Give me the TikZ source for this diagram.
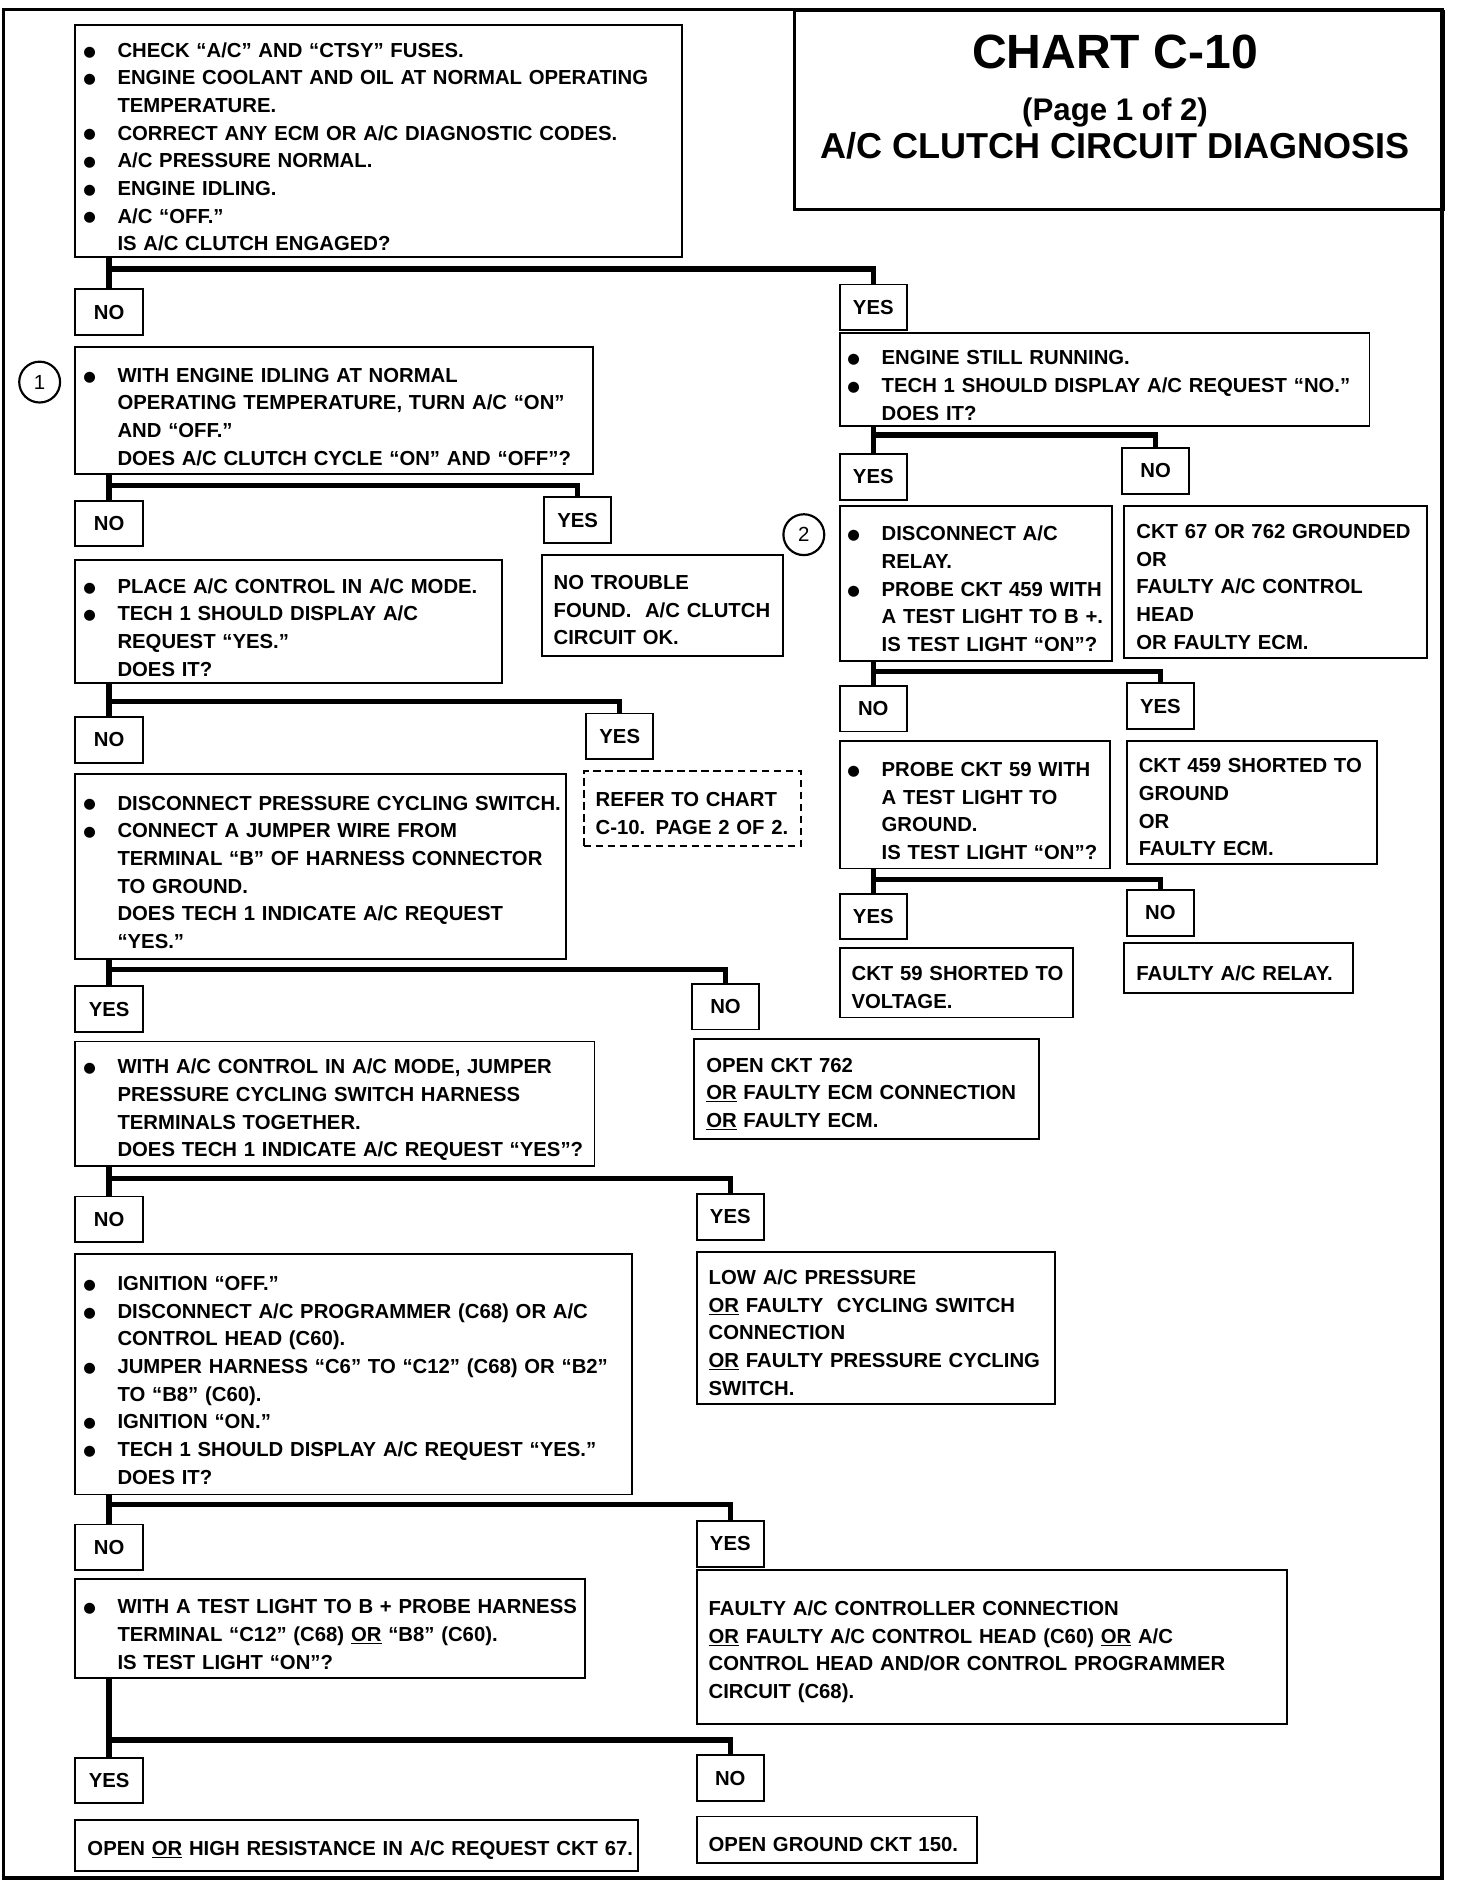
\documentclass[tikz,border=0pt]{standalone}
\usepackage{fontspec}
\setmainfont{Liberation Sans}
\newfontfamily\dejavu{DejaVu Sans}
\usetikzlibrary{positioning}
\newcommand{\bl}{\leavevmode\llap{\raisebox{1pt}{\dejavu\fontsize{12}{12}\selectfont ●}\hspace{18pt}}}
\newcommand{\ul}[1]{\underline{#1}}
\newcommand{\nobreaks}{\rightskip=0pt plus 1fil minus 150pt\hyphenpenalty=10000\relax}
\tikzset{
  txtfont/.style={font=\bfseries\fontsize{16.9}{23}\selectfont},
  bbox/.style 2 args={draw, line width=1.6pt, anchor=north west, inner xsep=0pt, inner ysep=0pt,
    text width=#1, minimum height=#2, align=left, txtfont,
    execute at begin node={\leftskip=35pt\nobreaks\leavevmode\rule{0pt}{22pt}}},
  pbox/.style 2 args={draw, line width=1.6pt, anchor=north west, inner xsep=0pt, inner ysep=0pt,
    text width=#1, minimum height=#2, align=left, txtfont,
    execute at begin node={\leftskip=10pt\nobreaks\leavevmode\rule{0pt}{20pt}}},
  lab/.style={draw, line width=1.6pt, anchor=north west, minimum width=56, minimum height=38,
    inner sep=0pt, txtfont},
  conn/.style={line width=4.5pt},
  num/.style={circle, draw, line width=1.8pt, minimum size=34, inner sep=0pt,
    font=\fontsize{17}{17}\selectfont},
}
\begin{document}
\begin{tikzpicture}[x=1pt,y=-1pt]
\useasboundingbox (0,0) rectangle (1225,1573);
\draw[line width=3pt] (3,8) rectangle (1200,1563);

%title
\node[draw, line width=2.4pt, anchor=north west, minimum width=540, minimum height=165] (tbox) at (660,8) {};
\node[anchor=base, font=\bfseries\fontsize{40}{40}\selectfont] (t1) at (928,57) {CHART C-10};
\node[anchor=base, font=\bfseries\fontsize{26}{26}\selectfont] (t2) at (928,100) {(Page 1 of 2)};
\node[anchor=base, font=\bfseries\fontsize{30}{30}\selectfont] (t3) at (928,132) {A/C CLUTCH CIRCUIT DIAGNOSIS};

\node[bbox={505}{193}] (box1) at (62,20) {\bl CHECK “A/C” AND “CTSY” FUSES.\\
\bl ENGINE COOLANT AND OIL AT NORMAL OPERATING\\ TEMPERATURE.\\
\bl CORRECT ANY ECM OR A/C DIAGNOSTIC CODES.\\
\bl A/C PRESSURE NORMAL.\\
\bl ENGINE IDLING.\\
\bl A/C “OFF.”\\ IS A/C CLUTCH ENGAGED?};
\node[lab] (no1) at (62,240) {NO};
\node[lab] (yes1) at (698,236) {YES};

%right branch
\node[bbox={441}{78}] (r1) at (698,276) {\bl ENGINE STILL RUNNING.\\
\bl TECH 1 SHOULD DISPLAY A/C REQUEST “NO.”\\ DOES IT?};
\node[lab] (yes2) at (698,377) {YES};
\node[lab] (no2) at (933,372) {NO};
\node[bbox={227}{129}] (r2) at (698,420) {\bl DISCONNECT A/C\\ RELAY.\\
\bl PROBE CKT 459 WITH\\ A TEST LIGHT TO B +.\\ IS TEST LIGHT “ON”?};
\node[num] (c2) at (669,445) {2};
\node[pbox={252}{127}] (r3) at (935,420) {CKT 67 OR 762 GROUNDED\\ OR\\ FAULTY A/C CONTROL\\ HEAD\\ OR FAULTY ECM.};
\node[lab] (no3) at (698,570) {NO};
\node[lab] (yes3) at (937,568) {YES};
\node[bbox={225}{106}] (r4) at (698,616) {\bl PROBE CKT 59 WITH\\ A TEST LIGHT TO\\ GROUND.\\ IS TEST LIGHT “ON”?};
\node[pbox={208}{102}] (r5) at (937,616) {CKT 459 SHORTED TO\\ GROUND\\ OR\\ FAULTY ECM.};
\node[lab] (yes4) at (698,743) {YES};
\node[lab] (no4) at (937,740) {NO};
\node[pbox={194}{58}] (r6) at (698,788) {CKT 59 SHORTED TO\\ VOLTAGE.};
\node[pbox={190}{42}] (r7) at (935,784) {FAULTY A/C RELAY.};

%left branch
\node[num] (c1) at (33,318) {1};
\node[bbox={431}{106}] (l1) at (62,288) {\bl WITH ENGINE IDLING AT NORMAL\\ OPERATING TEMPERATURE, TURN A/C “ON”\\ AND “OFF.”\\ DOES A/C CLUTCH CYCLE “ON” AND “OFF”?};
\node[lab] (no5) at (62,416) {NO};
\node[lab] (yes5) at (452,413) {YES};
\node[bbox={355}{103}] (l2) at (62,465) {\bl PLACE A/C CONTROL IN A/C MODE.\\
\bl TECH 1 SHOULD DISPLAY A/C\\ REQUEST “YES.”\\ DOES IT?};
\node[pbox={201}{84}] (y2) at (450,461) {NO TROUBLE\\ FOUND.\ \ A/C CLUTCH\\ CIRCUIT OK.};
\node[lab] (no6) at (62,596) {NO};
\node[lab] (yes6) at (487,593) {YES};
\node[bbox={408}{154}] (l3) at (62,643) {\bl DISCONNECT PRESSURE CYCLING SWITCH.\\
\bl CONNECT A JUMPER WIRE FROM\\ TERMINAL “B” OF HARNESS CONNECTOR\\ TO GROUND.\\ DOES TECH 1 INDICATE A/C REQUEST\\ “YES.”};
\node[pbox={181}{62}, dash pattern=on 6pt off 4pt] (ref) at (485,641) {REFER TO CHART\\ C-10. PAGE 2 OF 2.};
\node[lab] (yes7) at (62,820) {YES};
\node[lab] (no7) at (575,818) {NO};
\node[bbox={432}{104}] (l4) at (62,866) {\bl WITH A/C CONTROL IN A/C MODE, JUMPER\\ PRESSURE CYCLING SWITCH HARNESS\\ TERMINALS TOGETHER.\\ DOES TECH 1 INDICATE A/C REQUEST “YES”?};
\node[pbox={287}{83}] (n4) at (577,864) {OPEN CKT 762\\ \ul{OR} FAULTY ECM CONNECTION\\ \ul{OR} FAULTY ECM.};
\node[lab] (no8) at (62,995) {NO};
\node[lab] (yes8) at (579,993) {YES};
\node[bbox={463}{200}] (l5) at (62,1043) {\bl IGNITION “OFF.”\\
\bl DISCONNECT A/C PROGRAMMER (C68) OR A/C\\ CONTROL HEAD (C60).\\
\bl JUMPER HARNESS “C6” TO “C12” (C68) OR “B2”\\ TO “B8” (C60).\\
\bl IGNITION “ON.”\\
\bl TECH 1 SHOULD DISPLAY A/C REQUEST “YES.”\\ DOES IT?};
\node[pbox={298}{127}] (y5) at (579,1041) {LOW A/C PRESSURE\\ \ul{OR} FAULTY\ \ CYCLING SWITCH\\ CONNECTION\\ \ul{OR} FAULTY PRESSURE CYCLING\\ SWITCH.};
\node[lab] (no9) at (62,1268) {NO};
\node[lab] (yes9) at (579,1265) {YES};
\node[bbox={424}{83}] (l6) at (62,1313) {\bl WITH A TEST LIGHT TO B + PROBE HARNESS\\ TERMINAL “C12” (C68) \ul{OR} “B8” (C60).\\ IS TEST LIGHT “ON”?};
\node[pbox={491}{128}] (y6) at (579,1306) {FAULTY A/C CONTROLLER CONNECTION\\ \ul{OR} FAULTY A/C CONTROL HEAD (C60) \ul{OR} A/C\\ CONTROL HEAD AND/OR CONTROL PROGRAMMER\\ CIRCUIT (C68).};
\node[lab] (yes10) at (62,1462) {YES};
\node[lab] (no10) at (579,1460) {NO};
\node[pbox={468}{42}] (l7) at (62,1514) {OPEN \ul{OR} HIGH RESISTANCE IN A/C REQUEST CKT 67.};
\node[pbox={233}{39}] (n7) at (579,1511) {OPEN GROUND CKT 150.};

%split points
\coordinate (s1) at (0,224);
\coordinate (s2) at (0,362);
\coordinate (s3) at (0,559);
\coordinate (s4) at (0,732);
\coordinate (s5) at (0,404);
\coordinate (s6) at (0,584);
\coordinate (s7) at (0,807);
\coordinate (s8) at (0,981);
\coordinate (s9) at (0,1252);
\coordinate (s10) at (0,1448);

\draw[conn] (box1.south -| no1) -- (no1.north) (no1 |- s1) -| (yes1.north);
\draw[conn] (r1.south -| yes2) -- (yes2.north) (yes2 |- s2) -| (no2.north);
\draw[conn] (r2.south -| no3) -- (no3.north) (no3 |- s3) -| (yes3.north);
\draw[conn] (r4.south -| yes4) -- (yes4.north) (yes4 |- s4) -| (no4.north);
\draw[conn] (l1.south -| no5) -- (no5.north) (no5 |- s5) -| (yes5.north);
\draw[conn] (l2.south -| no6) -- (no6.north) (no6 |- s6) -| (yes6.north);
\draw[conn] (l3.south -| yes7) -- (yes7.north) (yes7 |- s7) -| (no7.north);
\draw[conn] (l4.south -| no8) -- (no8.north) (no8 |- s8) -| (yes8.north);
\draw[conn] (l5.south -| no9) -- (no9.north) (no9 |- s9) -| (yes9.north);
\draw[conn] (l6.south -| yes10) -- (yes10.north) (yes10 |- s10) -| (no10.north);
\end{tikzpicture}
\end{document}
